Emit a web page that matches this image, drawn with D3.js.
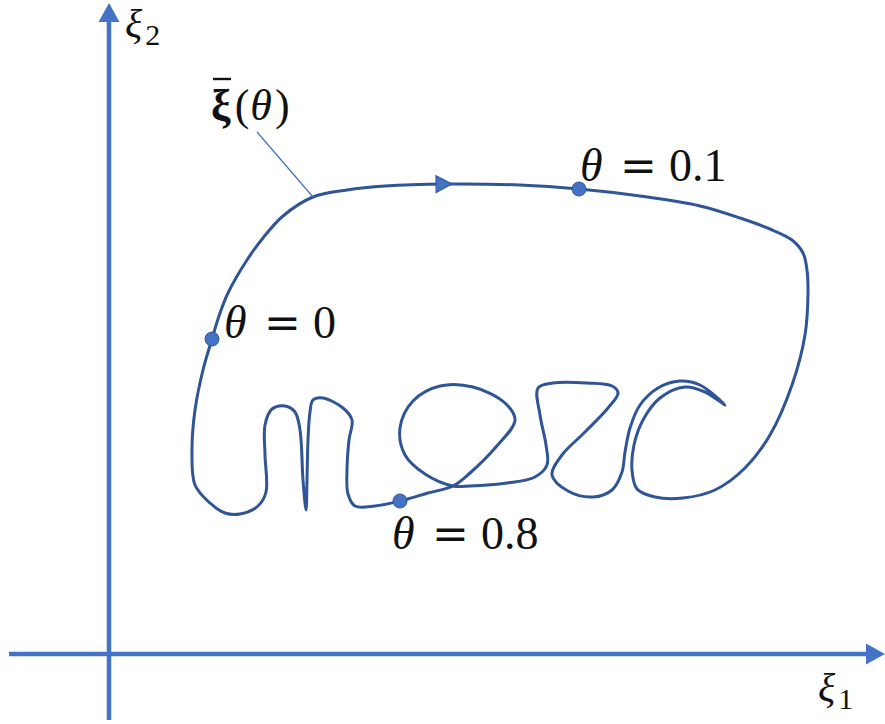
<!DOCTYPE html>
<html>
<head>
<meta charset="utf-8">
<script src="https://cdn.jsdelivr.net/npm/d3@7"></script>
<style>
  html, body { margin: 0; padding: 0; background: #fff; }
  svg { display: block; }
  .math { font-family: "Liberation Serif", "DejaVu Serif", serif; fill: #111; }
  .op { font-family: "DejaVu Serif", serif; }
</style>
</head>
<body>
<svg id="chart" width="885" height="724"></svg>
<script>
// Closed trajectory ξ̄(θ) in the (ξ1, ξ2) plane, listed in the direction of travel.
const curveXi1 = [
  1.03, 1.10, 1.19, 1.38, 1.54, 1.74, 2.04, 2.38, 2.76, 3.36,
  4.11, 4.70, 5.31, 5.91, 6.31, 6.61, 6.83, 6.94, 6.98, 6.99,
  6.96, 6.83, 6.61, 6.36, 6.06, 5.74, 5.46, 5.28, 5.23, 5.25,
  5.34, 5.51, 5.76, 5.96, 6.16, 5.91, 5.71, 5.49, 5.31, 5.21,
  5.16, 5.13, 5.03, 4.84, 4.59, 4.43, 4.53, 4.76, 4.99, 5.09,
  5.03, 4.78, 4.44, 4.29, 4.31, 4.37, 4.38, 4.26, 3.98, 3.61,
  3.44, 3.16, 2.96, 2.91, 3.04, 3.31, 3.64, 3.96, 4.06, 3.86,
  3.61, 3.44, 3.19, 2.91, 2.66, 2.46, 2.39, 2.38, 2.40, 2.43,
  2.34, 2.14, 2.04, 2.01, 1.99, 1.98, 1.97, 1.94, 1.91, 1.86,
  1.76, 1.63, 1.56, 1.56, 1.57, 1.49, 1.31, 1.16, 1.01, 0.86,
  0.83, 0.86, 0.94
];
const curveXi2 = [
  3.15, 3.38, 3.61, 3.94, 4.16, 4.38, 4.57, 4.64, 4.68, 4.70,
  4.69, 4.65, 4.58, 4.48, 4.36, 4.25, 4.14, 4.01, 3.84, 3.61,
  3.19, 2.69, 2.19, 1.86, 1.64, 1.56, 1.57, 1.65, 1.84, 2.09,
  2.34, 2.56, 2.67, 2.62, 2.49, 2.69, 2.73, 2.66, 2.49, 2.26,
  2.02, 1.82, 1.64, 1.57, 1.63, 1.79, 1.99, 2.22, 2.46, 2.61,
  2.68, 2.71, 2.71, 2.66, 2.39, 2.09, 1.89, 1.77, 1.71, 1.68,
  1.68, 1.80, 1.99, 2.26, 2.53, 2.68, 2.67, 2.51, 2.34, 2.06,
  1.81, 1.68, 1.61, 1.53, 1.48, 1.48, 1.60, 1.84, 2.14, 2.34,
  2.46, 2.56, 2.54, 2.42, 2.14, 1.74, 1.44, 1.74, 2.24, 2.42,
  2.48, 2.45, 2.29, 1.99, 1.62, 1.48, 1.40, 1.41, 1.51, 1.69,
  2.04, 2.44, 2.84
];

// Marked parameter values and the curve samples they sit on.
const markerTheta = ["0", "0.1", "0.8"];
const markerIndex = [0, 11, 73];

// Sample that carries the direction arrow.
const arrowIndex = 9;

// Axis extents (data units) and axis names.
const axisXi1 = [-1.0, 7.76];
const axisXi2 = [-0.66, 6.51];
const axisNames = ["ξ", "ξ"];
const axisSubs = ["1", "2"];

const svg = d3.select("#chart");

const x = d3.scaleLinear().domain([0, 7.76]).range([109, 885]);
const y = d3.scaleLinear().domain([0, 6.51]).range([654, 3]);

const axisColor = "#4472C4";
const curveColor = "#2F5597";

// ---- axes with arrowheads ----
const axisG = svg.append("g");
const headLen = 19, headHalf = 10.5;
axisG.append("line")
  .attr("x1", x(axisXi1[0])).attr("y1", y(0))
  .attr("x2", x(axisXi1[1]) - headLen + 2).attr("y2", y(0))
  .attr("stroke", axisColor).attr("stroke-width", 4.5);
axisG.append("path")
  .attr("d", `M${x(axisXi1[1])},${y(0)} L${x(axisXi1[1]) - headLen},${y(0) - headHalf} L${x(axisXi1[1]) - headLen},${y(0) + headHalf} Z`)
  .attr("fill", axisColor);
axisG.append("line")
  .attr("x1", x(0)).attr("y1", y(axisXi2[0]))
  .attr("x2", x(0)).attr("y2", y(axisXi2[1]) + headLen - 2)
  .attr("stroke", axisColor).attr("stroke-width", 4.5);
axisG.append("path")
  .attr("d", `M${x(0)},${y(axisXi2[1])} L${x(0) - headHalf},${y(axisXi2[1]) + headLen} L${x(0) + headHalf},${y(axisXi2[1]) + headLen} Z`)
  .attr("fill", axisColor);

// axis names ξ1, ξ2
function axisName(px, py, i) {
  const t = svg.append("text")
    .attr("class", "math")
    .attr("x", px).attr("y", py)
    .attr("font-size", 40);
  t.append("tspan").attr("font-style", "italic").text(axisNames[i]);
  t.append("tspan").attr("font-size", 30).attr("dx", 3).attr("dy", 8).text(axisSubs[i]);
}
axisName(818, 701, 0);
axisName(125, 37, 1);

// ---- the closed trajectory ----
const pts = curveXi1.map((v, i) => [v, curveXi2[i]]);
const line = d3.line()
  .x(d => x(d[0])).y(d => y(d[1]))
  .curve(d3.curveCatmullRomClosed.alpha(0.5));

svg.append("path")
  .datum(pts)
  .attr("d", line)
  .attr("fill", "none")
  .attr("stroke", curveColor)
  .attr("stroke-width", 3)
  .attr("stroke-linejoin", "round");

// direction arrow along the top of the curve
{
  const p = pts[arrowIndex], q = pts[arrowIndex + 1], r = pts[arrowIndex - 1];
  const ang = Math.atan2(y(q[1]) - y(r[1]), x(q[0]) - x(r[0])) * 180 / Math.PI;
  svg.append("path")
    .attr("d", "M7,0 L-9,-8.5 L-9,8.5 Z")
    .attr("transform", `translate(${x(p[0])},${y(p[1])}) rotate(${ang})`)
    .attr("fill", axisColor)
    .attr("stroke", curveColor).attr("stroke-width", 1);
}

// leader line to the curve name
{
  const p = pts[6];
  svg.append("line")
    .attr("x1", 257).attr("y1", 132)
    .attr("x2", x(p[0])).attr("y2", y(p[1]))
    .attr("stroke", axisColor).attr("stroke-width", 1.2);
}

// curve name ξ̄(θ)
{
  const t = svg.append("text")
    .attr("class", "math")
    .attr("x", 211).attr("y", 120)
    .attr("font-size", 44);
  t.append("tspan").attr("font-weight", "bold").text("ξ");
  t.append("tspan").attr("dx", 4).text("(");
  t.append("tspan").attr("font-style", "italic").attr("dx", 1).text("θ");
  t.append("tspan").attr("dx", 3).text(")");
  svg.append("line")
    .attr("x1", 213).attr("x2", 231).attr("y1", 79).attr("y2", 79)
    .attr("stroke", "#111").attr("stroke-width", 2.4);
}

// ---- marked points and their θ labels ----
const labelPos = [[224, 338], [580, 181], [392, 549]];
markerIndex.forEach((idx, k) => {
  const p = pts[idx];
  svg.append("circle")
    .attr("cx", x(p[0])).attr("cy", y(p[1]))
    .attr("r", 7)
    .attr("fill", axisColor)
    .attr("stroke", curveColor).attr("stroke-width", 1);

  const [lx, ly] = labelPos[k];
  const t = svg.append("text")
    .attr("class", "math")
    .attr("y", ly)
    .attr("font-size", 46);
  t.append("tspan").attr("x", lx).attr("font-style", "italic").text("θ");
  t.append("tspan").attr("class", "op").attr("x", lx + 40).attr("font-size", 44).text("=");
  t.append("tspan").attr("x", lx + 89).text(markerTheta[k]);
});
</script>
</body>
</html>
